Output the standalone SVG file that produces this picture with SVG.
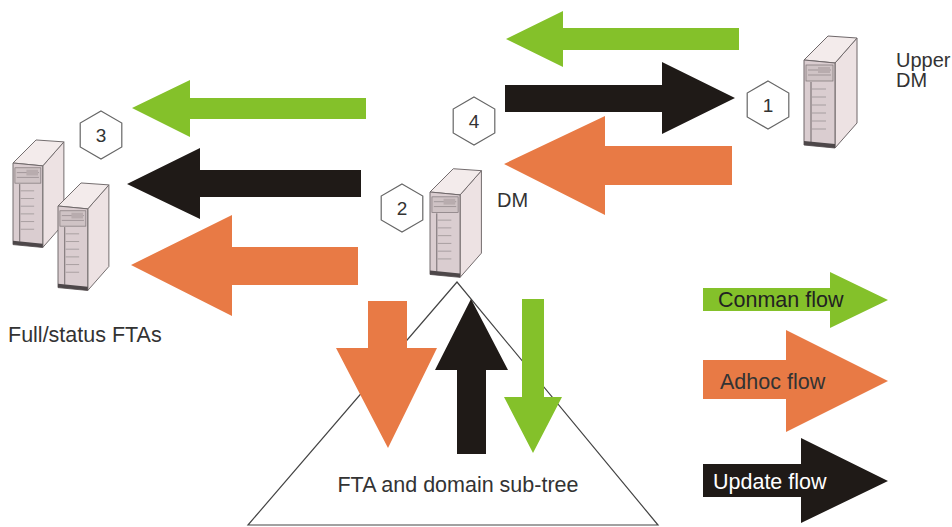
<svg xmlns="http://www.w3.org/2000/svg" xmlns:xlink="http://www.w3.org/1999/xlink" width="952" height="527" viewBox="0 0 952 527">
<style>
  .lbl { font-family: "Liberation Sans", Arial, sans-serif; font-size: 20px; fill: #333; }
  .big { font-size: 21.5px; }
  .num { font-family: "Liberation Sans", Arial, sans-serif; font-size: 19px; fill: #333; text-anchor: middle; }
  .hex { fill: #fff; stroke: #666; stroke-width: 1.2; }
  .green { fill: #84c12a; }
  .orange { fill: #e87a45; }
  .black { fill: #1f1a17; }
  .tri { fill: none; stroke: #444; stroke-width: 1.2; }
</style>
<defs>
  <polygon id="hexshape" points="0,-24 20.8,-12 20.8,12 0,24 -20.8,12 -20.8,-12"/>
  <g id="server">
    <polygon points="31,3 53,-22 53,63 31,88" fill="#ede2e3" stroke="#6e6769" stroke-width="1"/>
    <polygon points="0,0 24,-24 53,-22 31,3" fill="#f3ebeb" stroke="#6e6769" stroke-width="1"/>
    <polygon points="0,0 31,3 31,88 0,85" fill="#dacdd0" stroke="#6e6769" stroke-width="1"/>
    <rect x="2" y="5" width="27" height="16" fill="#cfc3c5" stroke="#7a7274" stroke-width="0.7"/>
    <line x1="4" y1="10" x2="27" y2="10" stroke="#8a8284" stroke-width="0.7"/>
    <line x1="4" y1="15" x2="27" y2="15" stroke="#8a8284" stroke-width="0.7"/>
    <rect x="14" y="7" width="12" height="6" fill="#b8acae"/>
    <line x1="7" y1="22" x2="7" y2="82" stroke="#6e6769" stroke-width="1"/>
    <g stroke="#9a9294" stroke-width="0.8">
      <line x1="8" y1="29" x2="22" y2="29"/>
      <line x1="8" y1="37" x2="22" y2="37"/>
      <line x1="8" y1="45" x2="22" y2="45"/>
      <line x1="8" y1="53" x2="22" y2="53"/>
      <line x1="8" y1="61" x2="22" y2="61"/>
      <line x1="8" y1="69" x2="22" y2="69"/>
    </g>
    <polygon points="0,81 31,84 31,88 0,85" fill="#4d4749"/>
  </g>
</defs>

<g id="subtree">
  <polygon class="tri" points="457,282 248,525 658,525"/>
  <text class="lbl big" x="458" y="492" text-anchor="middle">FTA and domain sub-tree</text>
</g>

<g id="connectors">
  <polygon class="green" points="132,108 190,80 190,98 366,98 366,119 190,119 190,137"/>
  <polygon class="black" points="127,184 200,148 200,170 361,170 361,197 200,197 200,219"/>
  <polygon class="orange" points="131,265 232,215 232,247 358,247 358,285 232,285 232,316"/>
  <polygon class="green" points="506,39 563,11 563,28 739,28 739,50 563,50 563,67"/>
  <polygon class="black" points="505,85 662,85 662,62 735,98 662,134 662,112 505,112"/>
  <polygon class="orange" points="504,164 605,116 605,146 732,146 732,185 605,185 605,215"/>
  <polygon class="orange" points="368,301 407,301 407,348 437,348 388,448 336,348 368,348"/>
  <polygon class="black" points="471,299 508,370 486,370 486,454 457,454 457,370 435,370"/>
  <polygon class="green" points="522,299 544,299 544,397 562,397 533,453 504,397 522,397"/>
</g>

<g id="dm">
  <use xlink:href="#server" href="#server" transform="translate(430,192) scale(0.97)"/>
  <text class="lbl" x="497" y="207">DM</text>
</g>

<g id="upper-dm">
  <use xlink:href="#server" href="#server" transform="translate(804,60)"/>
  <text class="lbl" x="896" y="67">Upper</text>
  <text class="lbl" x="896" y="87">DM</text>
</g>

<g id="ftas">
  <use xlink:href="#server" href="#server" transform="translate(13,163) scale(0.96)"/>
  <use xlink:href="#server" href="#server" transform="translate(58,206) scale(0.96)"/>
  <text class="lbl big" x="8" y="342">Full/status FTAs</text>
</g>

<g id="hex1">
  <use xlink:href="#hexshape" href="#hexshape" class="hex" transform="translate(768,105)"/>
  <text class="num" x="768" y="112">1</text>
</g>
<g id="hex2">
  <use xlink:href="#hexshape" href="#hexshape" class="hex" transform="translate(402,208)"/>
  <text class="num" x="402" y="215">2</text>
</g>
<g id="hex3">
  <use xlink:href="#hexshape" href="#hexshape" class="hex" transform="translate(101,135)"/>
  <text class="num" x="101" y="142">3</text>
</g>
<g id="hex4">
  <use xlink:href="#hexshape" href="#hexshape" class="hex" transform="translate(474,121)"/>
  <text class="num" x="474" y="128">4</text>
</g>

<g id="legend">
  <polygon class="green" points="703,288 830,288 830,272 888,300 830,328 830,311 703,311"/>
  <text class="lbl big" x="718" y="307" style="fill:#222">Conman flow</text>
  <polygon class="orange" points="703,360 786,360 786,330 888,381 786,432 786,399 703,399"/>
  <text class="lbl big" x="720" y="389">Adhoc flow</text>
  <polygon class="black" points="703,464 801,464 801,438 888,481 801,523 801,497 703,497"/>
  <text class="lbl big" x="713" y="489" style="fill:#fff">Update flow</text>
</g>
</svg>
